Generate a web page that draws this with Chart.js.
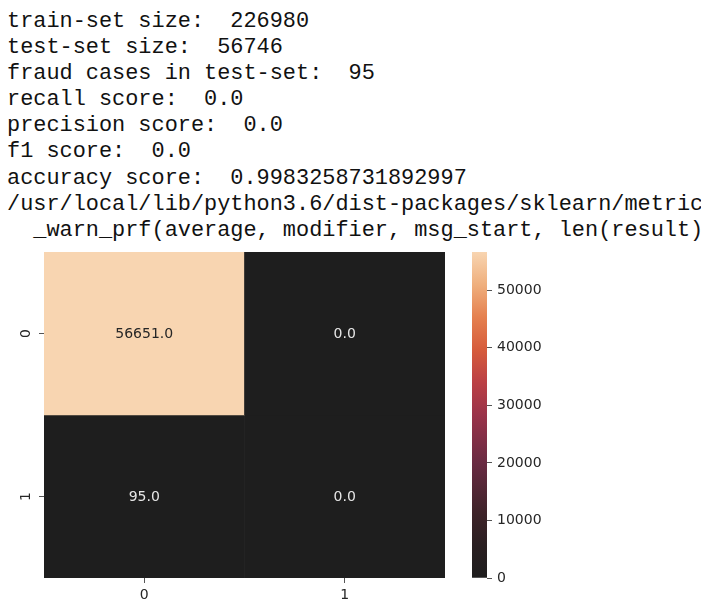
<!DOCTYPE html>
<html>
<head>
<meta charset="utf-8">
<script src="https://cdn.jsdelivr.net/npm/chart.js@4/dist/chart.umd.min.js"></script>
<style>
  html, body { margin: 0; padding: 0; background: #ffffff; }
  body { width: 706px; height: 602px; position: relative; overflow: hidden; }
  #log {
    position: absolute; left: 7px; top: 9px; margin: 0;
    font-family: "Liberation Mono", "DejaVu Sans Mono", monospace;
    font-size: 21.9px; line-height: 26.1px; color: #111111;
    white-space: pre; overflow: hidden; width: 694px;
  }
  #heat { position: absolute; left: 0; top: 240px; }
  #cbar { position: absolute; left: 440px; top: 240px; }
</style>
</head>
<body>
<pre id="log"></pre>
<canvas id="heat" width="460" height="362"></canvas>
<canvas id="cbar" width="266" height="362"></canvas>
<script>
// ---- data ----
const logLines = [
  "train-set size:  226980",
  "test-set size:  56746",
  "fraud cases in test-set:  95",
  "recall score:  0.0",
  "precision score:  0.0",
  "f1 score:  0.0",
  "accuracy score:  0.9983258731892997",
  "/usr/local/lib/python3.6/dist-packages/sklearn/metrics/_classification.py:1272: UndefinedMetricWarning",
  "  _warn_prf(average, modifier, msg_start, len(result))"
];
const colLabels = ["0", "1"];
const rowLabels = ["0", "1"];
const row0 = [56651, 0];
const row1 = [95, 0];
const colorbarTicks = [0, 10000, 20000, 30000, 40000, 50000];

document.getElementById('log').textContent = logLines.join("\n");

// ---- colormap ----
const cmapStops = [
  [0.00, [30, 30, 30]],
  [0.10, [42, 31, 33]],
  [0.20, [62, 35, 41]],
  [0.35, [104, 42, 66]],
  [0.50, [154, 51, 74]],
  [0.60, [187, 64, 69]],
  [0.70, [214, 92, 60]],
  [0.80, [229, 128, 79]],
  [0.90, [239, 175, 125]],
  [1.00, [248, 213, 177]]
];
const vmax = Math.max(...row0, ...row1);
function cmap(t) {
  t = Math.max(0, Math.min(1, t));
  for (let i = 1; i < cmapStops.length; i++) {
    const [t1, c1] = cmapStops[i];
    const [t0, c0] = cmapStops[i - 1];
    if (t <= t1) {
      const f = (t - t0) / (t1 - t0);
      const c = c0.map((v, k) => Math.round(v + (c1[k] - v) * f));
      return `rgb(${c[0]},${c[1]},${c[2]})`;
    }
  }
  const c = cmapStops[cmapStops.length - 1][1];
  return `rgb(${c[0]},${c[1]},${c[2]})`;
}

const tickFont = { family: "'DejaVu Sans', sans-serif", size: 14 };
const tickColor = '#262626';

// ---- heatmap ----
const rows = [row0, row1];
const heatDatasets = rows.map((vals, r) => ({
  label: 'row ' + rowLabels[r],
  data: vals.map(() => [r, r + 1]),
  values: vals,
  backgroundColor: vals.map(v => cmap(v / vmax)),
  borderWidth: 0,
  borderSkipped: false,
  barPercentage: 1,
  categoryPercentage: 1,
  grouped: false
}));

const annotatePlugin = {
  id: 'annotate',
  afterDatasetsDraw(chart) {
    const ctx = chart.ctx;
    ctx.save();
    ctx.font = "14px 'DejaVu Sans', sans-serif";
    ctx.textAlign = 'center';
    ctx.textBaseline = 'middle';
    chart.data.datasets.forEach((ds, di) => {
      const meta = chart.getDatasetMeta(di);
      meta.data.forEach((bar, i) => {
        const v = ds.values[i];
        const t = v / vmax;
        ctx.fillStyle = t > 0.6 ? '#262626' : '#e6e6e6';
        const cx = bar.x;
        const cy = (bar.y + bar.base) / 2;
        ctx.fillText(v.toFixed(1), cx, cy + 1);
      });
    });
    ctx.restore();
  }
};

function noPad(s) { s.paddingTop = 0; s.paddingBottom = 0; s.paddingLeft = 0; s.paddingRight = 0; }

new Chart(document.getElementById('heat'), {
  type: 'bar',
  data: { labels: colLabels, datasets: heatDatasets },
  options: {
    responsive: false,
    animation: false,
    events: [],
    layout: { padding: { top: 12, right: 15, left: 0, bottom: 0 } },
    plugins: { legend: { display: false }, tooltip: { enabled: false } },
    scales: {
      x: {
        type: 'category',
        offset: true,
        grid: { display: true, drawOnChartArea: false, drawTicks: true, tickLength: 5, offset: false, color: '#555555', tickWidth: 1 },
        border: { display: false },
        ticks: { font: tickFont, color: tickColor, padding: 4, maxRotation: 0, minRotation: 0 },
        afterFit(s) { s.height = 24; noPad(s); }
      },
      y: {
        type: 'linear',
        min: 0, max: 2, reverse: true,
        grid: { display: true, drawOnChartArea: false, drawTicks: true, tickLength: 5, color: '#555555' },
        border: { display: false },
        afterBuildTicks(s) { s.ticks = [{ value: 0.5 }, { value: 1.5 }]; },
        ticks: {
          font: tickFont, color: tickColor, padding: 8,
          minRotation: 90, maxRotation: 90, crossAlign: 'center',
          callback: (v, i) => rowLabels[i]
        },
        afterFit(s) { s.width = 44; noPad(s); }
      }
    }
  },
  plugins: [annotatePlugin]
});

// ---- colorbar ----
function cbarFill(context) {
  const chart = context.chart;
  const area = chart.chartArea;
  if (!area) return cmap(1);
  const yScale = chart.scales.y;
  const y0 = yScale.getPixelForValue(0);
  const y1 = yScale.getPixelForValue(vmax);
  const g = chart.ctx.createLinearGradient(0, y0, 0, y1);
  cmapStops.forEach(([t]) => g.addColorStop(t, cmap(t)));
  return g;
}

new Chart(document.getElementById('cbar'), {
  type: 'bar',
  data: {
    labels: [''],
    datasets: [{ data: [[0, vmax]], backgroundColor: cbarFill, borderWidth: 0, borderSkipped: false, barPercentage: 1, categoryPercentage: 1 }]
  },
  options: {
    responsive: false,
    animation: false,
    events: [],
    layout: { padding: { top: 12, left: 32, right: 0, bottom: 24 } },
    plugins: { legend: { display: false }, tooltip: { enabled: false } },
    scales: {
      x: { display: false, afterFit(s) { s.height = 0; } },
      y: {
        type: 'linear', position: 'right',
        min: 0, max: vmax,
        grid: { display: true, drawOnChartArea: false, drawTicks: true, tickLength: 5, color: '#555555' },
        border: { display: false },
        afterBuildTicks(s) { s.ticks = colorbarTicks.map(v => ({ value: v })); },
        ticks: { font: tickFont, color: tickColor, padding: 5, callback: v => String(v) },
        afterFit(s) { s.width = 266 - 47; noPad(s); }
      }
    }
  }
});
</script>
</body>
</html>
